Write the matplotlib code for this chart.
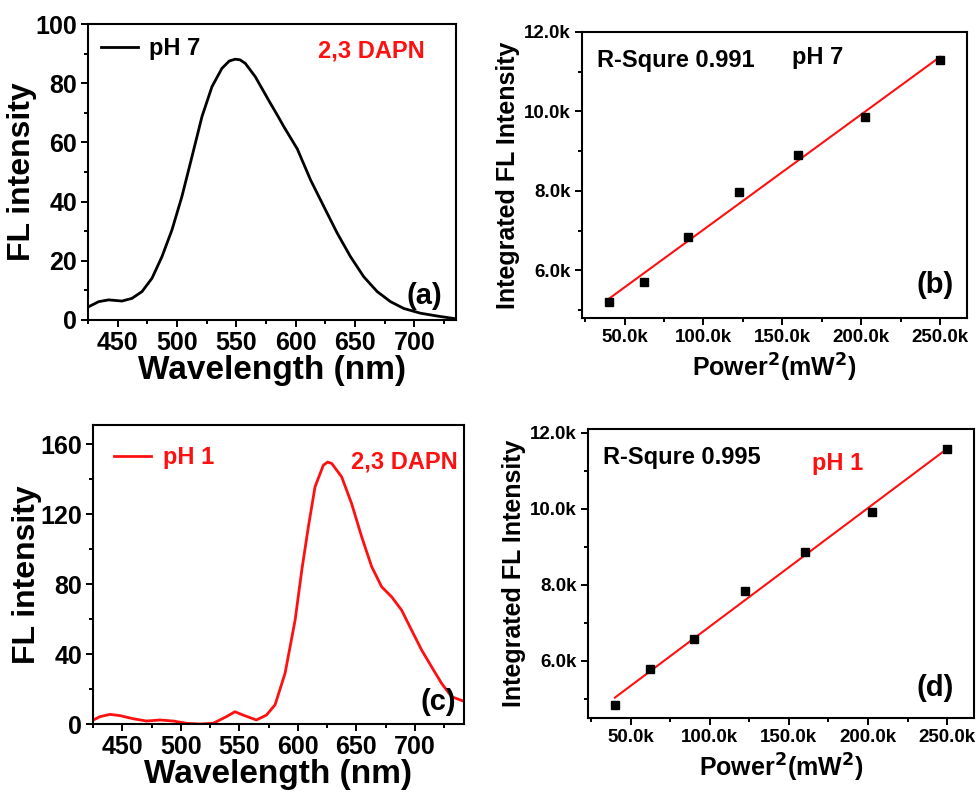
import numpy as np
import matplotlib
matplotlib.use("Agg")
import matplotlib.pyplot as plt
from matplotlib.ticker import MultipleLocator, FuncFormatter

plt.rcParams['font.family'] = ['Liberation Sans', 'DejaVu Sans']
plt.rcParams['font.weight'] = 'bold'
plt.rcParams['mathtext.default'] = 'bf'

RED = '#ff1010'

# ---- Panel (a): pH 7 spectrum ----
wl_a = [425.6, 434, 442.4, 453.6, 462, 470.5, 478.9, 487.3, 495.7, 504.1, 512.6, 521,
        529.4, 537.8, 544, 549, 553, 557.5, 565.9, 577.1, 585.5, 590, 601.3, 612.5,
        623.7, 635, 646.1, 657.3, 668.6, 679.8, 691, 705, 719, 731.7, 735]
fl_a = [4.5, 6.2, 6.8, 6.4, 7.3, 9.6, 14.1, 21.4, 30.4, 41.7, 55.2, 68.7,
        78.8, 85.0, 87.5, 88.1, 87.9, 86.7, 82.2, 74.3, 68.5, 65.3, 57.8, 47.3,
        38.3, 29.3, 21.4, 14.6, 9.6, 6.2, 3.9, 2.3, 1.35, 0.6, 0.4]

# ---- Panel (c): pH 1 spectrum ----
wl_c = [425.3, 431, 439.5, 448, 459.4, 470.8, 482.2, 493.6, 504.9, 516.3, 527.7, 539,
        546.2, 553.3, 564.6, 573.2, 580.6, 589.1, 597.7, 603.4, 609, 614.7, 621.8, 625.5,
        629, 637.5, 646, 654.6, 663.1, 671.6, 680.2, 688.7, 697.2, 705.8, 714.3, 722.8,
        731.4, 742.7]
fl_c = [2.3, 4.2, 5.5, 4.8, 3.0, 1.7, 2.3, 1.7, 0.4, 0.0, 0.4, 4.2,
        7.0, 5.1, 2.3, 5.1, 11.0, 29.0, 59.4, 88.0, 112.7, 135.6, 148.0, 149.8,
        149.0, 141.3, 126.0, 107.0, 90.0, 78.5, 72.7, 65.1, 53.7, 42.3, 32.7, 23.3,
        15.6, 12.8]

# ---- Panels (b), (d): integrated intensity vs power^2 ----
power2 = [40000, 62500, 90000, 122500, 160000, 202500, 250000]
int_b = [5200, 5710, 6850, 7960, 8900, 9850, 11300]
int_d = [4850, 5790, 6590, 7850, 8860, 9910, 11580]

fig = plt.figure(figsize=(9.79, 7.94), dpi=100)
W, H = 979, 794


def add_ax(l, t, r, b):
    return fig.add_axes([l / W, 1 - b / H, (r - l) / W, (b - t) / H])


def style(ax, tick_fs):
    for s in ax.spines.values():
        s.set_linewidth(1.5)
    ax.tick_params(which='both', direction='out', top=False, right=False,
                   width=1.4, labelsize=tick_fs)
    ax.tick_params(which='major', length=5, pad=3)
    ax.tick_params(which='minor', length=3)
    for lab in ax.get_xticklabels() + ax.get_yticklabels():
        lab.set_fontweight('bold')


kfmt = FuncFormatter(lambda v, p: f"{v/1000:.1f}k")

# (a)
axa = add_ax(88, 24, 456, 320)
axa.plot(wl_a, fl_a, color='black', lw=2.0, label='pH 7')
axa.set_xlim(425, 735)
axa.set_ylim(0, 100)
axa.xaxis.set_major_locator(MultipleLocator(50))
axa.xaxis.set_minor_locator(MultipleLocator(25))
axa.yaxis.set_major_locator(MultipleLocator(20))
axa.yaxis.set_minor_locator(MultipleLocator(10))
style(axa, 18)
axa.set_xlabel('Wavelength (nm)', fontsize=24, fontweight='bold', labelpad=0)
axa.set_ylabel('FL intensity', fontsize=23, fontweight='bold', labelpad=-1)
axa.legend(loc='upper left', frameon=False, fontsize=17, handlelength=1.55,
           handletextpad=0.5, borderaxespad=0.15)
axa.text(0.77, 0.91, '2,3 DAPN', transform=axa.transAxes, color=RED, fontsize=17,
         fontweight='bold', ha='center', va='center')
axa.text(0.915, 0.08, '(a)', transform=axa.transAxes, color='black', fontsize=21,
         fontweight='bold', ha='center', va='center')

# (c)
axc = add_ax(93, 425, 464, 724)
axc.plot(wl_c, fl_c, color=RED, lw=2.0, label='pH 1')
axc.set_xlim(425, 742)
axc.set_ylim(0, 171)
axc.xaxis.set_major_locator(MultipleLocator(50))
axc.xaxis.set_minor_locator(MultipleLocator(25))
axc.yaxis.set_major_locator(MultipleLocator(40))
axc.yaxis.set_minor_locator(MultipleLocator(20))
style(axc, 18)
axc.set_xlabel('Wavelength (nm)', fontsize=24, fontweight='bold', labelpad=0)
axc.set_ylabel('FL intensity', fontsize=23, fontweight='bold', labelpad=-1)
legc = axc.legend(loc='upper left', frameon=False, fontsize=17, handlelength=1.55,
                  handletextpad=0.5, borderaxespad=0.5)
for t in legc.get_texts():
    t.set_color(RED)
axc.text(0.838, 0.877, '2,3 DAPN', transform=axc.transAxes, color=RED, fontsize=17,
         fontweight='bold', ha='center', va='center')
axc.text(0.93, 0.074, '(c)', transform=axc.transAxes, color='black', fontsize=21,
         fontweight='bold', ha='center', va='center')


def fit_panel(ax, y, ylim, r2):
    coef = np.polyfit(power2, y, 1)
    xs = np.array([power2[0], power2[-1]])
    ax.plot(xs, np.polyval(coef, xs), color=RED, lw=1.5, zorder=2)
    ax.plot(power2, y, 's', color='black', ms=6, zorder=3)
    ax.set_xlim(23000, 267000)
    ax.set_ylim(*ylim)
    ax.xaxis.set_major_locator(MultipleLocator(50000))
    ax.xaxis.set_minor_locator(MultipleLocator(25000))
    ax.yaxis.set_major_locator(MultipleLocator(2000))
    ax.yaxis.set_minor_locator(MultipleLocator(1000))
    ax.xaxis.set_major_formatter(kfmt)
    ax.yaxis.set_major_formatter(kfmt)
    style(ax, 13.5)
    ax.set_xlabel('Power$^\\mathbf{2}$(mW$^\\mathbf{2}$)', fontsize=18, fontweight='bold', labelpad=4)
    ax.set_ylabel('Integrated FL Intensity', fontsize=18, fontweight='bold', labelpad=3)
    ax.text(0.04, 0.9, f'R-Squre {r2}', transform=ax.transAxes, fontsize=17,
            fontweight='bold', ha='left', va='center')
    return ax


axb = add_ax(582, 32, 967, 318)
fit_panel(axb, int_b, (4800, 12000), '0.991')
axb.text(0.545, 0.91, 'pH 7', transform=axb.transAxes, fontsize=17, fontweight='bold',
         color='black', ha='left', va='center')
axb.text(0.87, 0.115, '(b)', transform=axb.transAxes, fontsize=21, fontweight='bold',
         ha='left', va='center')

axd = add_ax(588, 429, 974, 718)
fit_panel(axd, int_d, (4500, 12100), '0.995')
axd.text(0.58, 0.88, 'pH 1', transform=axd.transAxes, fontsize=17, fontweight='bold',
         color=RED, ha='left', va='center')
axd.text(0.85, 0.105, '(d)', transform=axd.transAxes, fontsize=21, fontweight='bold',
         ha='left', va='center')

fig.savefig('out.png', dpi=100)
